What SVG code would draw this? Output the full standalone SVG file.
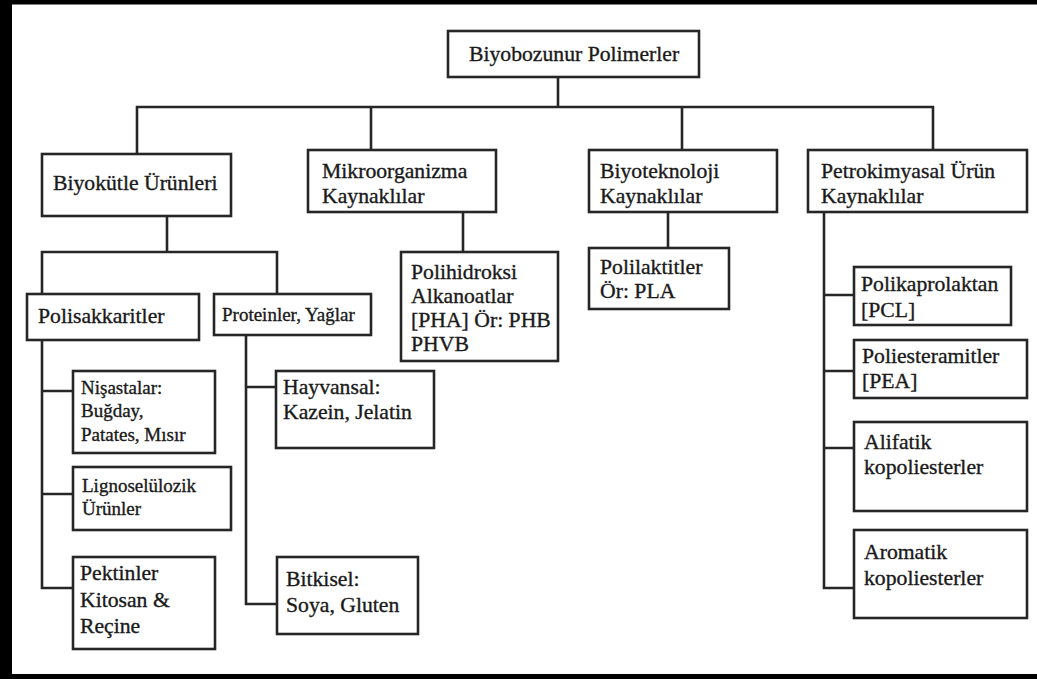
<svg xmlns="http://www.w3.org/2000/svg" width="1037" height="679" viewBox="0 0 1037 679">
<style>
.b{fill:#fff;stroke:#262626;stroke-width:2.6}
.t{font-family:'Liberation Serif','DejaVu Serif','Times New Roman',Times,serif;font-size:21.7px;fill:#1a1a1a;stroke:#1a1a1a;stroke-width:0.35}
.s{font-size:19px}
.c{fill:none;stroke:#262626;stroke-width:2.6}
</style>
<rect x="0" y="0" width="1037" height="679" fill="#fff"/>
<rect x="0" y="0" width="1037" height="4.5" fill="#000"/>
<rect x="0" y="674" width="1037" height="5" fill="#000"/>
<rect x="0" y="0" width="12" height="679" fill="#000"/>
<g id="connectors">
<path class="c" d="M558 77V107M137 154V107H933V150M371 107V150M682 107V150"/>
<path class="c" d="M167 216V252M42 294V252H277V294"/>
<path class="c" d="M463 212V252M668 212V248"/>
<path class="c" d="M42 340V588H73M42 391H73M42 494H73"/>
<path class="c" d="M246 335V604H277M246 387H276"/>
<path class="c" d="M824 212V588H854M824 295H854M824 371H854M824 448H854"/>
</g>
<g id="root"><rect class="b" x="448" y="31" width="251" height="46"/><text class="t" x="469" y="61">Biyobozunur Polimerler</text></g>
<g id="biyokutle"><rect class="b" x="42" y="154" width="189" height="62"/><text class="t" x="53" y="190">Biyokütle Ürünleri</text></g>
<g id="mikro"><rect class="b" x="308" y="150" width="188" height="62"/><text class="t" x="322" y="178">Mikroorganizma</text><text class="t" x="322" y="203">Kaynaklılar</text></g>
<g id="biyotek"><rect class="b" x="589" y="150" width="188" height="62"/><text class="t" x="600" y="178">Biyoteknoloji</text><text class="t" x="600" y="203">Kaynaklılar</text></g>
<g id="petro"><rect class="b" x="808" y="150" width="219" height="62"/><text class="t" x="821" y="178">Petrokimyasal Ürün</text><text class="t" x="821" y="203">Kaynaklılar</text></g>
<g id="polisakkaritler"><rect class="b" x="27" y="294" width="172" height="46"/><text class="t" x="38" y="323">Polisakkaritler</text></g>
<g id="proteinler"><rect class="b" x="214" y="294" width="157" height="41"/><text class="t s" x="222" y="321">Proteinler, Yağlar</text></g>
<g id="pha"><rect class="b" x="401" y="252" width="157" height="109"/><text class="t" x="411" y="279">Polihidroksi</text><text class="t" x="411" y="303">Alkanoatlar</text><text class="t" x="411" y="327">[PHA] Ör: PHB</text><text class="t" x="411" y="351">PHVB</text></g>
<g id="pla"><rect class="b" x="589" y="248" width="140" height="61"/><text class="t" x="600" y="274">Polilaktitler</text><text class="t" x="600" y="298">Ör: PLA</text></g>
<g id="pcl"><rect class="b" x="854" y="267" width="157" height="58"/><text class="t" x="861" y="291">Polikaprolaktan</text><text class="t" x="861" y="317">[PCL]</text></g>
<g id="pea"><rect class="b" x="854" y="340" width="173" height="58"/><text class="t" x="862" y="363">Poliesteramitler</text><text class="t" x="862" y="388">[PEA]</text></g>
<g id="alifatik"><rect class="b" x="854" y="422" width="173" height="89"/><text class="t" x="864" y="449">Alifatik</text><text class="t" x="864" y="474">kopoliesterler</text></g>
<g id="aromatik"><rect class="b" x="854" y="530" width="173" height="88"/><text class="t" x="864" y="559">Aromatik</text><text class="t" x="864" y="585">kopoliesterler</text></g>
<g id="nisasta"><rect class="b" x="73" y="371" width="142" height="82"/><text class="t s" x="81" y="394">Nişastalar:</text><text class="t s" x="81" y="417">Buğday,</text><text class="t s" x="81" y="441">Patates, Mısır</text></g>
<g id="ligno"><rect class="b" x="73" y="467" width="158" height="63"/><text class="t s" x="82" y="492">Lignoselülozik</text><text class="t s" x="82" y="515">Ürünler</text></g>
<g id="pektin"><rect class="b" x="73" y="557" width="142" height="92"/><text class="t" x="80" y="580">Pektinler</text><text class="t" x="80" y="607">Kitosan &amp;</text><text class="t" x="80" y="633">Reçine</text></g>
<g id="hayvansal"><rect class="b" x="276" y="371" width="158" height="77"/><text class="t" x="283" y="394">Hayvansal:</text><text class="t" x="283" y="419">Kazein, Jelatin</text></g>
<g id="bitkisel"><rect class="b" x="277" y="557" width="141" height="77"/><text class="t" x="286" y="586">Bitkisel:</text><text class="t" x="286" y="612">Soya, Gluten</text></g>
</svg>
